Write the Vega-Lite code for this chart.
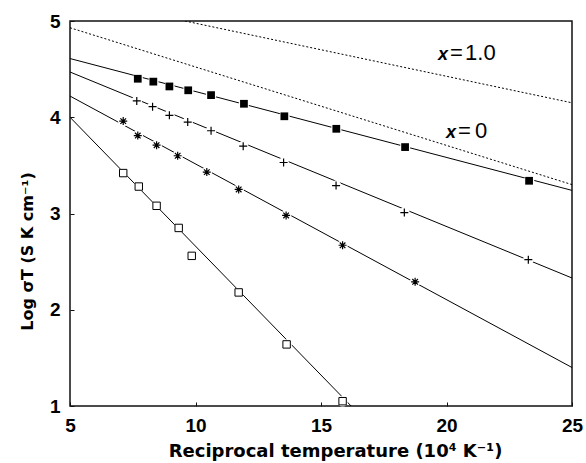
{
  "$schema": "https://vega.github.io/schema/vega-lite/v6.json",
  "width": 502,
  "height": 385,
  "autosize": {"type": "none"},
  "padding": {"left": 70, "top": 21, "right": 14, "bottom": 57},
  "background": "white",
  "config": {
    "view": {"stroke": "#111", "strokeWidth": 1.5},
    "font": "Liberation Sans"
  },
  "datasets": {
    "pts": [
      {"s": "A", "x": 7.70, "y": 4.40}, {"s": "A", "x": 8.32, "y": 4.37}, {"s": "A", "x": 8.96, "y": 4.32},
      {"s": "A", "x": 9.71, "y": 4.28}, {"s": "A", "x": 10.62, "y": 4.23}, {"s": "A", "x": 11.93, "y": 4.14},
      {"s": "A", "x": 13.54, "y": 4.01}, {"s": "A", "x": 15.61, "y": 3.88}, {"s": "A", "x": 18.35, "y": 3.69},
      {"s": "A", "x": 23.29, "y": 3.34},
      {"s": "B", "x": 7.66, "y": 4.17}, {"s": "B", "x": 8.29, "y": 4.11}, {"s": "B", "x": 8.96, "y": 4.02},
      {"s": "B", "x": 9.69, "y": 3.95}, {"s": "B", "x": 10.62, "y": 3.86}, {"s": "B", "x": 11.90, "y": 3.70},
      {"s": "B", "x": 13.51, "y": 3.53}, {"s": "B", "x": 15.60, "y": 3.29}, {"s": "B", "x": 18.32, "y": 3.01},
      {"s": "B", "x": 23.26, "y": 2.52},
      {"s": "C", "x": 7.12, "y": 3.96}, {"s": "C", "x": 7.70, "y": 3.81}, {"s": "C", "x": 8.45, "y": 3.71},
      {"s": "C", "x": 9.29, "y": 3.60}, {"s": "C", "x": 10.45, "y": 3.43}, {"s": "C", "x": 11.72, "y": 3.25},
      {"s": "C", "x": 13.61, "y": 2.98}, {"s": "C", "x": 15.86, "y": 2.67}, {"s": "C", "x": 18.75, "y": 2.29},
      {"s": "D", "x": 7.12, "y": 3.42}, {"s": "D", "x": 7.74, "y": 3.28}, {"s": "D", "x": 8.45, "y": 3.08},
      {"s": "D", "x": 9.33, "y": 2.85}, {"s": "D", "x": 9.85, "y": 2.56}, {"s": "D", "x": 11.72, "y": 2.18},
      {"s": "D", "x": 13.63, "y": 1.64}, {"s": "D", "x": 15.86, "y": 1.05}
    ],
    "fits": [
      {"s": "A", "x": 5, "y": 4.61}, {"s": "A", "x": 25, "y": 3.24},
      {"s": "B", "x": 5, "y": 4.47}, {"s": "B", "x": 25, "y": 2.33},
      {"s": "C", "x": 5, "y": 4.22}, {"s": "C", "x": 25, "y": 1.40},
      {"s": "D", "x": 5, "y": 4.00}, {"s": "D", "x": 16.2, "y": 1.00}
    ],
    "dots": [
      {"s": "x0", "x": 5, "y": 4.93}, {"s": "x0", "x": 25, "y": 3.30},
      {"s": "x1", "x": 9.58, "y": 5.0}, {"s": "x1", "x": 25, "y": 4.15}
    ],
    "labx": [
      {"t": "x", "x": 19.66, "y": 4.60},
      {"t": "x", "x": 19.98, "y": 3.782}
    ],
    "labrest": [
      {"t": "=", "x": 20.14, "y": 4.60},
      {"t": "1.0", "x": 20.74, "y": 4.60},
      {"t": "=", "x": 20.46, "y": 3.782},
      {"t": "0", "x": 21.14, "y": 3.782}
    ]
  },
  "encoding": {
    "x": {
      "field": "x", "type": "quantitative",
      "scale": {"domain": [5, 25], "nice": false, "zero": false},
      "axis": {
        "title": "Reciprocal temperature (10⁴ K⁻¹)",
        "values": [5, 10, 15, 20, 25],
        "grid": false, "domain": false,
        "tickSize": -4, "tickColor": "#111", "tickWidth": 1,
        "labelPadding": 14, "labelFontSize": 19, "labelFontWeight": "bold", "labelColor": "#000",
        "labelFlush": false,
        "titleFont": "DejaVu Sans", "titleFontSize": 18, "titleFontWeight": "bold", "titleColor": "#000",
        "titleX": 265, "titleY": 45, "titleBaseline": "middle", "titleAlign": "center"
      }
    },
    "y": {
      "field": "y", "type": "quantitative",
      "scale": {"domain": [1, 5], "nice": false, "zero": false},
      "axis": {
        "title": "Log σT (S K cm⁻¹)",
        "values": [1, 2, 3, 4, 5],
        "grid": false, "domain": false,
        "tickSize": -4, "tickColor": "#111", "tickWidth": 1,
        "labelPadding": 14, "labelFontSize": 19, "labelFontWeight": "bold", "labelColor": "#000",
        "labelFlush": false,
        "titleFont": "DejaVu Sans", "titleFontSize": 16, "titleFontWeight": "bold", "titleColor": "#000",
        "titleX": -43, "titleY": 230, "titleBaseline": "middle", "titleAlign": "center", "titleAngle": -90
      }
    }
  },
  "layer": [
    {
      "data": {"name": "fits"},
      "mark": {"type": "line", "color": "#000", "strokeWidth": 1, "clip": true},
      "encoding": {"detail": {"field": "s"}}
    },
    {
      "data": {"name": "dots"},
      "mark": {"type": "line", "color": "#000", "strokeWidth": 1, "strokeDash": [2, 2], "clip": true},
      "encoding": {"detail": {"field": "s"}}
    },
    {
      "data": {"name": "pts"},
      "mark": {"type": "point", "shape": "circle", "filled": true, "color": "white", "opacity": 1, "size": 110}
    },
    {
      "data": {"name": "pts"},
      "transform": [{"filter": "datum.s === 'A'"}],
      "mark": {"type": "point", "shape": "square", "filled": true, "color": "#000", "opacity": 1, "size": 60}
    },
    {
      "data": {"name": "pts"},
      "transform": [{"filter": "datum.s === 'B'"}],
      "mark": {"type": "point", "shape": "M-1,0H1M0,-1V1", "filled": false, "stroke": "#000", "strokeWidth": 1.2, "opacity": 1, "size": 64}
    },
    {
      "data": {"name": "pts"},
      "transform": [{"filter": "datum.s === 'C'"}],
      "mark": {"type": "point", "shape": "M-1,0H1M0,-1V1M-0.7,-0.7L0.7,0.7M-0.7,0.7L0.7,-0.7", "filled": false, "stroke": "#000", "strokeWidth": 1.2, "opacity": 1, "size": 64}
    },
    {
      "data": {"name": "pts"},
      "transform": [{"filter": "datum.s === 'D'"}],
      "mark": {"type": "point", "shape": "square", "filled": true, "fill": "white", "stroke": "#000", "strokeWidth": 1, "opacity": 1, "size": 55}
    },
    {
      "data": {"name": "labx"},
      "mark": {"type": "text", "align": "left", "baseline": "alphabetic", "fontSize": 18, "fontWeight": "bold", "fontStyle": "italic", "color": "#000"},
      "encoding": {"text": {"field": "t"}}
    },
    {
      "data": {"name": "labrest"},
      "mark": {"type": "text", "align": "left", "baseline": "alphabetic", "fontSize": 22, "color": "#000"},
      "encoding": {"text": {"field": "t"}}
    }
  ]
}
